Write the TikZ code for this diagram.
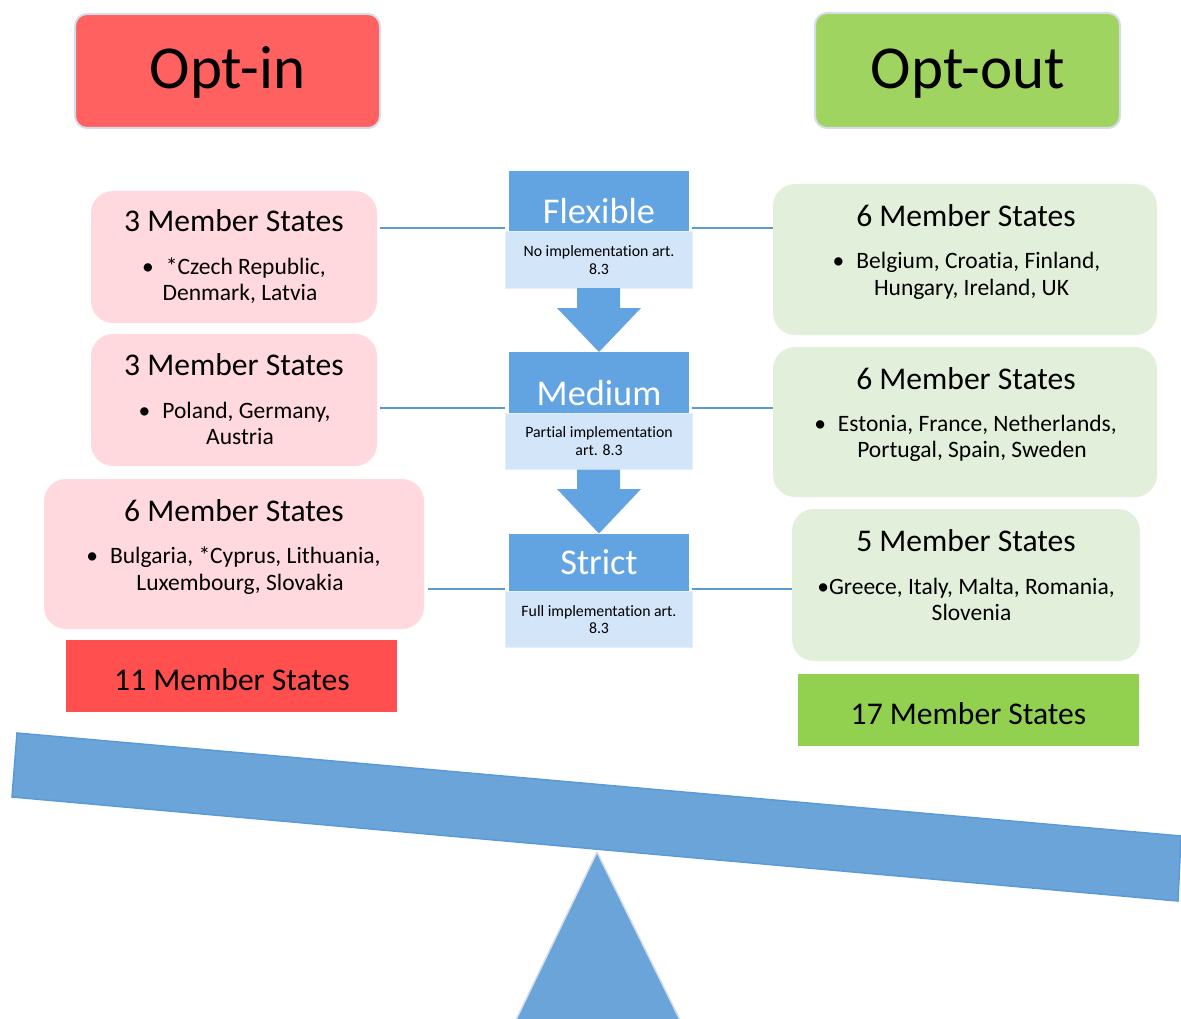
\documentclass[tikz,border=0pt]{standalone}
\usepackage{fontspec}
\setmainfont{Carlito}[Ligatures={NoCommon}]
\definecolor{optinred}{HTML}{FF6161}
\definecolor{optoutgreen}{HTML}{9ED45F}
\definecolor{totalred}{HTML}{FF4F4F}
\definecolor{totalgreen}{HTML}{92D050}
\definecolor{pinkfill}{HTML}{FFD9DE}
\definecolor{greenfill}{HTML}{E2EFDA}
\definecolor{headblue}{HTML}{62A3E1}
\definecolor{subblue}{HTML}{D3E5F9}
\definecolor{lineblue}{HTML}{5B9BD5}
\definecolor{beamblue}{HTML}{6AA4D8}
\definecolor{frame}{HTML}{D3DDEB}
\begin{document}
\begin{tikzpicture}[x=1pt,y=-1pt,
  every node/.style={inner sep=0pt, outer sep=0pt},
  optbox/.style={draw=frame, line width=2pt, rounded corners=12pt},
  pinkbox/.style={fill=pinkfill, rounded corners=22pt},
  greenbox/.style={fill=greenfill, rounded corners=22pt},
  headbox/.style={fill=headblue},
  subbox/.style={fill=subblue, draw=subblue!60!white, line width=1pt},
  bigtxt/.style={font=\fontsize{61}{70}\selectfont, anchor=base},
  titletxt/.style={font=\fontsize{31.6}{37}\selectfont, anchor=base},
  itemtxt/.style={font=\fontsize{23.5}{28}\selectfont, anchor=base},
  headtxt/.style={font=\fontsize{36.3}{42}\selectfont, anchor=base, text=white},
  subtxt/.style={font=\fontsize{15.8}{18}\selectfont, anchor=base},
  link/.style={draw=lineblue, line width=2pt},
  downarrow/.style={fill=headblue}
]
\useasboundingbox (0,0) rectangle (1181,1019);

% seesaw
\filldraw[fill=beamblue, draw=lineblue, line width=1.5pt] (17,733) -- (1181,836) -- (1178,901) -- (12,797) -- cycle;
\filldraw[fill=beamblue, draw=frame, line width=1.5pt] (597,852) -- (681,1022) -- (515,1022) -- cycle;

% top labels
\node[optbox, fill=optinred, minimum width=305pt, minimum height=114pt] (optin) at (227.5,71) {};
\node[bigtxt] (optintxt) at (227.5,89) {Opt-in};
\node[optbox, fill=optoutgreen, minimum width=305pt, minimum height=115pt] (optout) at (967.5,70.5) {};
\node[bigtxt] (optouttxt) at (968,89) {Opt-out};

% left boxes
\node[pinkbox, minimum width=286pt, minimum height=132pt] (l1) at (234,257) {};
\node[titletxt] (l1t) at (234,232) {3 Member States};
\node[itemtxt] (l1a) at (234,275) {\textbullet\hspace{12pt}*Czech Republic,};
\node[itemtxt] (l1b) at (240,301) {Denmark, Latvia};

\node[pinkbox, minimum width=286pt, minimum height=132pt] (l2) at (234,400) {};
\node[titletxt] (l2t) at (234,375) {3 Member States};
\node[itemtxt] (l2a) at (234.5,418) {\textbullet\hspace{12pt}Poland, Germany,};
\node[itemtxt] (l2b) at (240,444) {Austria};

\node[pinkbox, minimum width=380pt, minimum height=150pt] (l3) at (234,554) {};
\node[titletxt] (l3t) at (234,521) {6 Member States};
\node[itemtxt] (l3a) at (233.5,563) {\textbullet\hspace{12pt}Bulgaria, *Cyprus, Lithuania,};
\node[itemtxt] (l3b) at (240,590) {Luxembourg, Slovakia};

% right boxes
\node[greenbox, minimum width=384pt, minimum height=151pt] (r1) at (965,259.5) {};
\node[titletxt] (r1t) at (966,227) {6 Member States};
\node[itemtxt] (r1a) at (966.5,269) {\textbullet\hspace{12pt}Belgium, Croatia, Finland,};
\node[itemtxt] (r1b) at (971.5,295) {Hungary, Ireland, UK};

\node[greenbox, minimum width=384pt, minimum height=150pt] (r2) at (965,422) {};
\node[titletxt] (r2t) at (966,389) {6 Member States};
\node[itemtxt] (r2a) at (965.5,431) {\textbullet\hspace{12pt}Estonia, France, Netherlands,};
\node[itemtxt] (r2b) at (972,457) {Portugal, Spain, Sweden};

\node[greenbox, minimum width=348pt, minimum height=152pt] (r3) at (966,585) {};
\node[titletxt] (r3t) at (966,551) {5 Member States};
\node[itemtxt] (r3a) at (966,594) {\textbullet Greece, Italy, Malta, Romania,};
\node[itemtxt] (r3b) at (971.5,620) {Slovenia};

% totals
\node[fill=totalred, minimum width=331pt, minimum height=72pt] (ltot) at (231.5,676) {};
\node[titletxt] (ltott) at (232,690) {11 Member States};
\node[fill=totalgreen, minimum width=341pt, minimum height=72pt] (rtot) at (968.5,710) {};
\node[titletxt] (rtott) at (968.5,724) {17 Member States};

% centre column
\node[headbox, minimum width=180pt, minimum height=61pt] (flex) at (599,201.5) {};
\node[headtxt] (flext) at (599,224) {Flexible};
\node[subbox, minimum width=187pt, minimum height=56pt] (flexs) at (598.5,260) {};
\node[subtxt] (flexa) at (599,257) {No implementation art.};
\node[subtxt] (flexb) at (599,274) {8.3};

\node[headbox, minimum width=180pt, minimum height=61pt] (med) at (599,382.5) {};
\node[headtxt] (medt) at (599,405) {Medium};
\node[subbox, minimum width=187pt, minimum height=56pt] (meds) at (598.5,441.5) {};
\node[subtxt] (meda) at (599,437) {Partial implementation};
\node[subtxt] (medb) at (599,455) {art. 8.3};

\node[headbox, minimum width=180pt, minimum height=58pt] (str) at (599,562.5) {};
\node[headtxt] (strt) at (599,574) {Strict};
\node[subbox, minimum width=187pt, minimum height=56pt] (strs) at (598.5,619.5) {};
\node[subtxt] (stra) at (599,616) {Full implementation art.};
\node[subtxt] (strb) at (599,633) {8.3};

% down arrows
\fill[downarrow] (flexs.south -| 577,0) -- (577,308) -- (557,308) -- (med.north) -- (641,308) -- (620,308) -- (flexs.south -| 620,0) -- cycle;
\fill[downarrow] (meds.south -| 577,0) -- (577,489) -- (557,489) -- (str.north) -- (641,489) -- (620,489) -- (meds.south -| 620,0) -- cycle;

% connectors
\draw[link] (l1.east |- 0,228) ++(3,0) -- (flexs.west |- 0,228);
\draw[link] (flexs.east |- 0,228) -- (r1.west |- 0,228);
\draw[link] (l2.east |- 0,408) ++(3,0) -- (meds.west |- 0,408);
\draw[link] (meds.east |- 0,408) -- (r2.west |- 0,408);
\draw[link] (l3.east |- 0,589) ++(4,0) -- (strs.west |- 0,589);
\draw[link] (strs.east |- 0,589) -- (r3.west |- 0,589);
\end{tikzpicture}
\end{document}
